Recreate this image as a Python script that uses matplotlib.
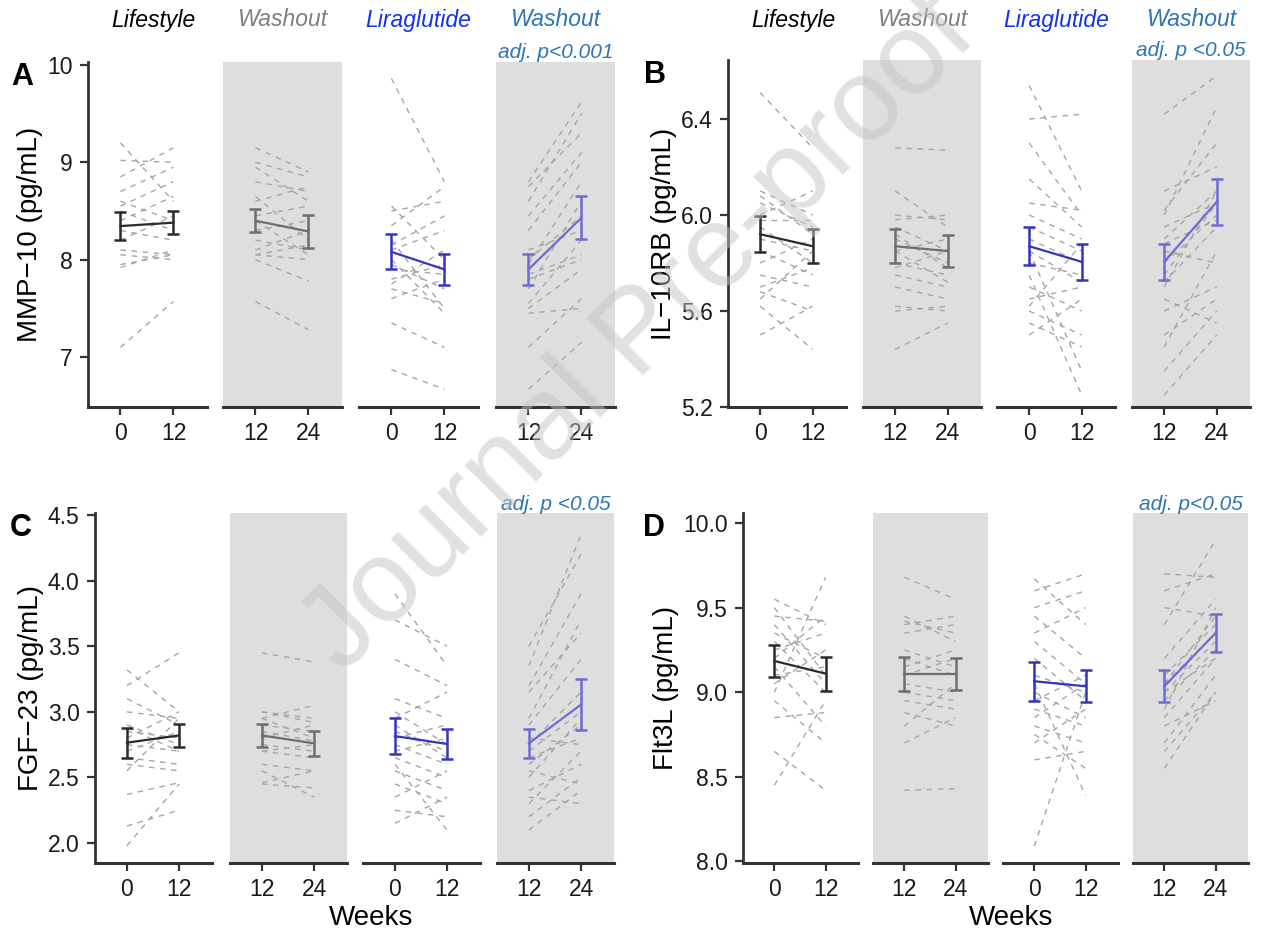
#!/usr/bin/env python3
"""biomarkers_plot.py"""

# Individual trajectories and mean +/- SE for four plasma biomarkers
# across lifestyle / washout / liraglutide / washout periods

from __future__ import annotations

import typing
import numpy as np
import matplotlib
matplotlib.use("Agg")
import matplotlib.pyplot as plt

if typing.TYPE_CHECKING:
    from matplotlib.figure import Figure

NAN = float("nan")

# Sub-panel periods
phase_names: list[str] = ["Lifestyle", "Washout", "Liraglutide", "Washout"]
phase_weeks: list[tuple[int, int]] = [(0, 12), (12, 24), (0, 12), (12, 24)]

# Panel A - MMP-10, subjects x weeks (0, 12, 24)
mmp10_lifestyle = [
    [7.10, 7.57, 7.28], [9.20, 8.60, 8.75], [9.02, 9.00, 8.85],
    [8.85, 9.15, 8.90], [8.70, 8.95, 8.60], [8.55, 8.80, 8.70],
    [8.50, 8.30, 8.40], [8.40, 8.65, 8.20], [8.30, 8.20, 8.10],
    [8.20, 8.45, 8.55], [8.10, 8.05, 8.00], [8.05, 8.00, 7.78],
    [7.95, 8.05, 8.15], [7.92, 8.10, 8.30], [8.60, 8.40, 8.05],
]
mmp10_lira = [
    [9.86, 8.80, 9.62], [6.87, 6.67, 7.15], [8.50, 8.60, 9.50],
    [8.35, 8.75, 9.30], [8.10, 8.30, 9.00], [7.95, 7.70, 8.60],
    [7.80, 7.95, 8.80], [7.75, 8.10, 8.30], [7.70, 7.55, 8.20],
    [7.60, 7.80, 8.00], [7.35, 7.10, 7.60], [8.20, 7.50, 7.90],
    [8.55, 8.00, 8.45], [7.90, 7.85, 8.05], [8.00, 7.45, 7.50],
    [8.15, 8.45, 9.10],
]
mmp10_mean = [8.345, 8.38, 8.40, 8.29, 8.08, 7.90, 7.90, 8.43]
mmp10_err = [0.145, 0.12, 0.12, 0.17, 0.18, 0.155, 0.16, 0.22]

# Panel B - IL-10RB
il10rb_lifestyle = [
    [6.51, 6.28, 6.27], [5.62, 5.44, 5.55], [5.50, 5.62, 5.60],
    [6.10, 6.00, 5.98], [6.05, 5.95, 5.85], [6.00, 6.10, 5.95],
    [5.95, 5.80, 5.75], [5.90, 5.85, 5.90], [5.85, 5.75, 5.70],
    [5.80, 5.90, 5.80], [5.75, 5.70, 5.65], [5.70, 5.78, 5.85],
    [5.65, 5.85, 5.72], [5.98, 5.98, 6.00], [6.08, 5.92, 5.78],
    [5.68, 5.60, 5.62],
]
il10rb_lira = [
    [6.54, 6.10, 6.20], [6.40, 6.42, 6.58], [6.30, 6.00, 6.45],
    [6.15, 5.95, 6.05], [6.00, 5.90, 6.10], [5.95, 5.85, 5.80],
    [5.90, 5.80, 6.00], [5.85, 5.72, 5.95], [5.80, 5.75, 6.05],
    [5.75, 5.25, 5.50], [5.70, 5.60, 5.70], [5.65, 5.70, 6.10],
    [5.60, 5.50, 5.65], [5.55, 5.45, 5.85], [5.50, 5.65, 5.55],
    [6.05, 6.02, 6.30], [5.62, 5.88, 5.98], [5.85, 5.35, 5.60],
]
il10rb_mean = [5.92, 5.87, 5.87, 5.85, 5.87, 5.805, 5.805, 6.055]
il10rb_err = [0.075, 0.07, 0.07, 0.065, 0.08, 0.075, 0.075, 0.095]

# Panel C - FGF-23
fgf23_lifestyle = [
    [1.98, 2.45, 2.42], [2.13, 2.25, NAN], [2.37, 2.46, 2.55],
    [3.32, 3.00, 2.95], [3.20, 3.45, 3.38], [3.10, 2.90, 2.85],
    [3.00, 2.95, 3.05], [2.90, 2.75, 2.70], [2.85, 2.80, 2.90],
    [2.80, 3.00, 2.92], [2.75, 2.70, 2.65], [2.70, 2.85, 2.78],
    [2.65, 2.60, 2.55], [2.60, 2.55, 2.35], [2.88, 2.70, 2.75],
    [2.55, 2.95, 2.80],
]
fgf23_lira = [
    [3.90, 3.35, 4.35], [3.70, 3.50, 4.20], [3.40, 3.20, 3.90],
    [3.10, 2.95, 3.70], [2.95, 3.15, 3.60], [2.85, 2.70, 3.00],
    [2.80, 2.90, 3.40], [2.75, 2.60, 2.90], [2.70, 2.80, 2.75],
    [2.65, 2.50, 2.95], [2.55, 2.40, 2.60], [2.45, 2.30, 2.70],
    [2.35, 2.55, 2.45], [2.25, 2.20, 2.50], [2.15, 2.35, 2.30],
    [3.00, 2.75, 3.15], [2.60, 2.10, 2.40], [2.90, 2.65, 2.80],
]
fgf23_mean = [2.765, 2.82, 2.82, 2.76, 2.815, 2.755, 2.76, 3.055]
fgf23_err = [0.115, 0.09, 0.09, 0.095, 0.135, 0.115, 0.11, 0.195]

# Panel D - Flt3L
flt3l_lifestyle = [
    [8.45, 8.95, 8.90], [8.65, 8.42, 8.43], [9.00, 9.68, 9.55],
    [8.85, 8.88, 8.80], [9.55, 9.40, 9.45], [9.50, 9.10, 9.20],
    [9.45, 9.42, 9.35], [9.40, 9.05, 9.00], [9.35, 9.20, 9.10],
    [9.30, 9.00, 8.95], [9.25, 9.35, 9.40], [9.20, 9.45, 9.30],
    [9.15, 8.80, 9.05], [9.10, 9.15, 9.25], [9.05, 9.25, 9.15],
    [8.95, 8.70, 8.85],
]
flt3l_lira = [
    [9.67, 9.40, 9.90], [9.60, 9.70, 9.68], [9.50, 9.60, 9.70],
    [9.45, 9.20, 9.55], [9.30, 9.05, 9.45], [9.20, 8.95, 9.25],
    [9.10, 9.00, 9.30], [9.00, 8.85, 9.20], [8.95, 9.10, 9.40],
    [8.90, 8.80, 8.95], [8.85, 9.05, 9.35], [8.80, 8.70, 9.10],
    [8.70, 8.90, 9.50], [8.60, 8.65, 9.00], [8.09, 9.00, 9.20],
    [9.05, 8.39, NAN], [8.75, 8.55, 9.00], [9.35, 9.50, 9.45],
]
flt3l_mean = [9.185, 9.11, 9.11, 9.11, 9.065, 9.035, 9.035, 9.35]
flt3l_err = [0.095, 0.10, 0.10, 0.095, 0.115, 0.095, 0.095, 0.11]

FIG_W, FIG_H = 1262, 938

HEADER_COLORS = ["black", "#7f7f7f", "#1133f0", "#2e75b6"]
MEAN_COLORS = ["#2b2b2b", "#6e6e6e", "#3434c0", "#6c6cd4"]
SHADE = "#dedede"
AXIS_COLOR = "#333333"


def px_rect(left: float, top: float, width: float, bottom: float) -> list[float]:
    """Convert a pixel box into a figure-fraction rect"""
    return [left / FIG_W, 1 - bottom / FIG_H, width / FIG_W, (bottom - top) / FIG_H]


def draw_panel(fig: Figure, letter: str, letter_x: float, ylabel: str,
               lefts: list[float], width: float, top: float, bottom: float,
               ylim: tuple[float, float], yticks: list[float],
               yticklabels: list[str], lifestyle: list[list[float]],
               lira: list[list[float]], means: list[float], errs: list[float],
               pnote: str, headers: bool, xlabel: bool) -> None:
    """Draws one biomarker panel made of four period sub-panels"""
    groups = [np.array(lifestyle), np.array(lifestyle), np.array(lira), np.array(lira)]
    cols = [(0, 1), (1, 2), (0, 1), (1, 2)]

    for i, left in enumerate(lefts):
        ax = fig.add_axes(px_rect(left, top, width, bottom))
        w0, w1 = phase_weeks[i]
        ax.set_xlim(w0 - 7.35, w0 + 19.6)
        ax.set_ylim(ylim)
        ax.set_facecolor(SHADE if i % 2 == 1 else "white")

        # Individual subjects
        c0, c1 = cols[i]
        for subj in groups[i]:
            ax.plot([w0, w1], [subj[c0], subj[c1]], color="#a6a6a6",
                    lw=1.0, ls=(0, (4, 4)), zorder=2)

        # Group mean +/- SE
        ax.errorbar([w0, w1], means[2 * i:2 * i + 2], yerr=errs[2 * i:2 * i + 2],
                    color=MEAN_COLORS[i], lw=1.6, elinewidth=1.8, capsize=4.5,
                    capthick=1.8, zorder=4)

        # Axis styling
        for side in ("top", "right"):
            ax.spines[side].set_visible(False)
        ax.spines["bottom"].set_linewidth(2.2)
        ax.spines["bottom"].set_color(AXIS_COLOR)
        ax.set_xticks([w0, w1])
        ax.set_xticklabels([str(w0), str(w1)])
        ax.tick_params(axis="both", length=6, width=1.6, color=AXIS_COLOR,
                       labelsize=16.5, labelcolor="#1a1a1a", pad=5)
        if i == 0:
            ax.spines["left"].set_linewidth(2.0)
            ax.spines["left"].set_color(AXIS_COLOR)
            ax.set_yticks(yticks)
            ax.set_yticklabels(yticklabels)
            ax.set_ylabel(ylabel, fontsize=20, labelpad=3)
        else:
            ax.spines["left"].set_visible(False)
            ax.set_yticks([])

        # Period headers and significance note
        if headers:
            fig.text((left + width * 0.5 + (6 if i == 0 else 0)) / FIG_W,
                     1 - 20 / FIG_H, phase_names[i],
                     color=HEADER_COLORS[i], fontsize=16.5, style="italic",
                     ha="center", va="center")
        if i == 3:
            fig.text((left + width * 0.5) / FIG_W, 1 - (top - 9) / FIG_H, pnote,
                     color="#2e75b6", fontsize=15, style="italic",
                     ha="center", va="center")

    fig.text(letter_x / FIG_W, 1 - (top + 15) / FIG_H, letter,
             fontsize=22, fontweight="bold", ha="center", va="center")
    if xlabel:
        xc = (lefts[1] + width + lefts[2]) / 2 + 16
        fig.text(xc / FIG_W, 1 - 918 / FIG_H, "Weeks", fontsize=20,
                 ha="center", va="center")


def main() -> None:
    plt.rcParams["font.family"] = ["Liberation Sans", "DejaVu Sans"]
    fig = plt.figure(figsize=(FIG_W / 100, FIG_H / 100), dpi=100)

    draw_panel(fig, "A", 22, "MMP\u221210 (pg/mL)", [88, 223, 359, 496], 119, 62, 407,
               (6.487, 10.03), [7, 8, 9, 10], ["7", "8", "9", "10"],
               mmp10_lifestyle, mmp10_lira, mmp10_mean, mmp10_err,
               "adj. p<0.001", True, False)
    draw_panel(fig, "B", 655, "IL\u221210RB (pg/mL)", [728, 863, 997, 1132], 118, 60, 407,
               (5.2, 6.646), [5.2, 5.6, 6.0, 6.4], ["5.2", "5.6", "6.0", "6.4"],
               il10rb_lifestyle, il10rb_lira, il10rb_mean, il10rb_err,
               "adj. p <0.05", True, False)
    draw_panel(fig, "C", 21, "FGF\u221223 (pg/mL)", [95, 230, 363, 497], 117, 513, 863,
               (1.848, 4.515), [2.0, 2.5, 3.0, 3.5, 4.0, 4.5],
               ["2.0", "2.5", "3.0", "3.5", "4.0", "4.5"],
               fgf23_lifestyle, fgf23_lira, fgf23_mean, fgf23_err,
               "adj. p <0.05", False, True)
    draw_panel(fig, "D", 654, "Flt3L (pg/mL)", [743, 873, 1003, 1133], 115, 513, 863,
               (7.99, 10.06), [8.0, 8.5, 9.0, 9.5, 10.0],
               ["8.0", "8.5", "9.0", "9.5", "10.0"],
               flt3l_lifestyle, flt3l_lira, flt3l_mean, flt3l_err,
               "adj. p<0.05", False, True)

    # Watermark
    fig.text(640 / FIG_W, 1 - 335 / FIG_H, "Journal Pre-proof", rotation=45,
             fontsize=84, color="#c4c4c4", alpha=0.5, ha="center", va="center",
             zorder=100)

    fig.savefig("out.png", dpi=100)


if __name__ == "__main__":
    main()
